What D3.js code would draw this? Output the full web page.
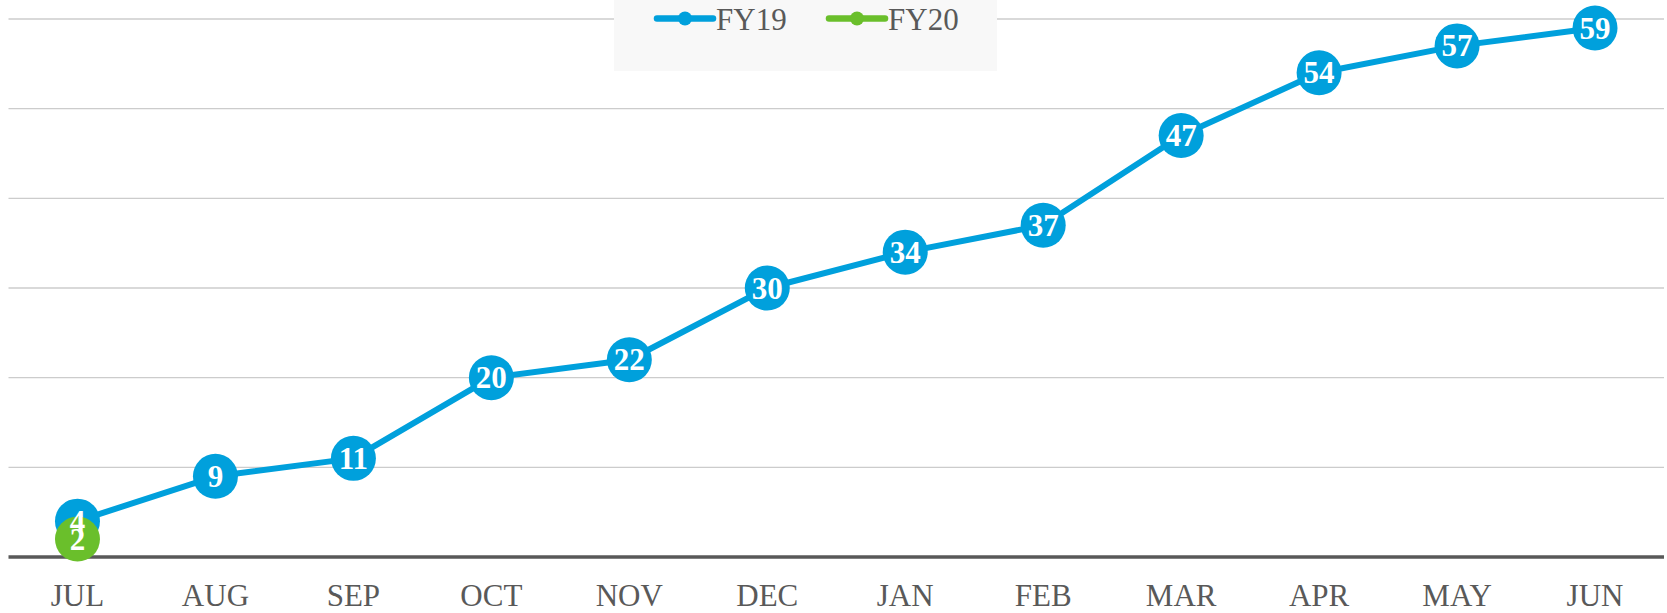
<!DOCTYPE html>
<html>
<head>
<meta charset="utf-8">
<script src="https://cdn.jsdelivr.net/npm/d3@7"></script>
<style>
  body { margin: 0; background: #fff; }
  svg text { font-family: "Liberation Serif", "Times New Roman", serif; }
</style>
</head>
<body>
<div id="chart"></div>
<script>
const months = ["JUL", "AUG", "SEP", "OCT", "NOV", "DEC", "JAN", "FEB", "MAR", "APR", "MAY", "JUN"];
const fy19 = [4, 9, 11, 20, 22, 30, 34, 37, 47, 54, 57, 59];
const fy20 = [2];
const yTicks = [0, 10, 20, 30, 40, 50, 60];

const width = 1667, height = 613;
const margin = { top: 19, right: 3, bottom: 56, left: 8.5 };

const series = [
  { name: "FY19", values: fy19, color: "#00A0DC" },
  { name: "FY20", values: fy20, color: "#6ABF2B" },
];

const svg = d3.select("#chart").append("svg")
  .attr("width", width)
  .attr("height", height);

const x = d3.scaleBand()
  .domain(months)
  .range([margin.left, width - margin.right])
  .padding(0);

const y = d3.scaleLinear()
  .domain([0, 60])
  .range([height - margin.bottom, margin.top]);

// gridlines
svg.append("g")
  .selectAll("line")
  .data(yTicks.slice(1))
  .join("line")
  .attr("x1", margin.left)
  .attr("x2", width - margin.right)
  .attr("y1", (d) => y(d))
  .attr("y2", (d) => y(d))
  .attr("stroke", "#cccccc")
  .attr("stroke-width", 1.3);

// x axis
const xAxis = svg.append("g")
  .attr("transform", `translate(0,${y(0)})`)
  .call(d3.axisBottom(x).tickSize(0).tickPadding(0));
xAxis.select(".domain").remove();
xAxis.append("line")
  .attr("x1", margin.left)
  .attr("x2", width - margin.right)
  .attr("stroke", "#595959")
  .attr("stroke-width", 3.5);
xAxis.selectAll(".tick text")
  .attr("y", 49)
  .attr("dy", 0)
  .attr("fill", "#595959")
  .style("font-size", "31px")
  .style("font-family", "Liberation Serif, serif");

const line = d3.line()
  .x((d, i) => x(months[i]) + x.bandwidth() / 2)
  .y((d) => y(d));

const cx = (d, i) => x(months[i]) + x.bandwidth() / 2;

// lines and markers first
series.forEach((s) => {
  const g = svg.append("g");
  g.append("path")
    .datum(s.values)
    .attr("d", line)
    .attr("fill", "none")
    .attr("stroke", s.color)
    .attr("stroke-width", 6)
    .attr("stroke-linejoin", "round");
  g.selectAll("circle")
    .data(s.values)
    .join("circle")
    .attr("cx", cx)
    .attr("cy", (d) => y(d))
    .attr("r", 22.5)
    .attr("fill", s.color);
});

// data labels on top of every marker
series.forEach((s) => {
  svg.append("g")
    .selectAll("text")
    .data(s.values)
    .join("text")
    .attr("x", cx)
    .attr("y", (d) => y(d))
    .attr("text-anchor", "middle")
    .attr("dy", "0.34em")
    .attr("fill", "#fff")
    .attr("font-weight", "bold")
    .style("font-size", "31px")
    .text((d) => d);
});

// legend
const legend = svg.append("g");
legend.append("rect")
  .attr("x", 614)
  .attr("y", 0)
  .attr("width", 383)
  .attr("height", 71)
  .attr("fill", "#f8f8f8");

const legendX = [657, 829];
series.forEach((s, i) => {
  const lg = legend.append("g").attr("transform", `translate(${legendX[i]},18.5)`);
  lg.append("line")
    .attr("x1", 0)
    .attr("x2", 56)
    .attr("stroke", s.color)
    .attr("stroke-width", 6.5)
    .attr("stroke-linecap", "round");
  lg.append("circle")
    .attr("cx", 28)
    .attr("r", 7)
    .attr("fill", s.color);
  lg.append("text")
    .attr("x", 59)
    .attr("y", 11.5)
    .attr("fill", "#595959")
    .style("font-size", "31px")
    .text(s.name);
});
</script>
</body>
</html>
